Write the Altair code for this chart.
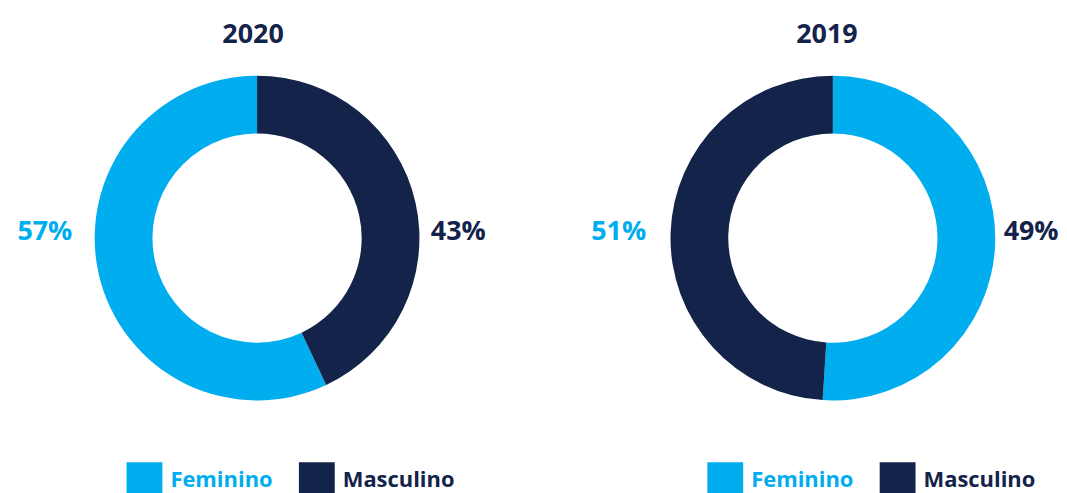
import altair as alt
import pandas as pd

# ---- data ----
years = ["2020", "2019"]
genders = ["Feminino", "Masculino"]
pct_2020 = [57, 43]          # Feminino, Masculino
pct_2019 = [51, 49]          # Feminino, Masculino
# drawing order clockwise from 12 o'clock
order_2020 = [2, 1]          # Masculino first
order_2019 = [1, 2]          # Feminino first

LIGHT = "#00ADEF"
DARK = "#13234A"
FONT = "Open Sans"

panel_vals = {"2020": (pct_2020, order_2020), "2019": (pct_2019, order_2019)}

# layout per panel (plot-area pixels)
layout = {
    "2020": dict(width=500, cx=250, title_x=246, left_x=37, right_x=452, legend_x=119),
    "2019": dict(width=470, cx=250, title_x=244, left_x=35, right_x=449, legend_x=124),
}
H = 477
CY = 230


def panel(year):
    vals, ords = panel_vals[year]
    df = pd.DataFrame({"gender": genders, "value": vals, "ord": ords})
    df["label"] = [f"{v}%" for v in vals]
    L = layout[year]

    color = alt.Color(
        "gender:N",
        scale=alt.Scale(domain=genders, range=[LIGHT, DARK]),
        legend=alt.Legend(
            title=None,
            orient="none",
            direction="horizontal",
            legendX=L["legend_x"],
            legendY=455,
            symbolType="square",
            symbolSize=1296,
            symbolStrokeWidth=0,
            labelFont=FONT,
            labelFontSize=22,
            labelFontWeight="bold",
            labelColor=alt.ExprRef(expr=f"datum.label === 'Feminino' ? '{LIGHT}' : '{DARK}'"),
            labelOffset=8,
            columnPadding=26,
            padding=0,
            labelLimit=300,
        ),
    )

    base = alt.Chart(df)
    arc = base.mark_arc(outerRadius=163, innerRadius=105, stroke=None).encode(
        theta=alt.Theta("value:Q", stack=True),
        order=alt.Order("ord:Q"),
        color=color,
        x=alt.value(L["cx"]),
        y=alt.value(CY),
    )

    fem = df[df.gender == "Feminino"]
    mas = df[df.gender == "Masculino"]

    t_fem = alt.Chart(fem).mark_text(
        font=FONT, fontSize=27, fontWeight="bold", color=LIGHT, align="center", baseline="alphabetic"
    ).encode(text="label:N", x=alt.value(L["left_x"]), y=alt.value(232))
    t_mas = alt.Chart(mas).mark_text(
        font=FONT, fontSize=27, fontWeight="bold", color=DARK, align="center", baseline="alphabetic"
    ).encode(text="label:N", x=alt.value(L["right_x"]), y=alt.value(232))

    title = alt.Chart(pd.DataFrame({"year": [year]})).mark_text(
        font=FONT, fontSize=27, fontWeight="bold", color=DARK, align="center", baseline="alphabetic"
    ).encode(text="year:N", x=alt.value(L["title_x"]), y=alt.value(34))

    return alt.layer(arc, t_fem, t_mas, title).properties(width=L["width"], height=H)


chart = (
    alt.hconcat(panel("2020"), panel("2019"), spacing=78)
    .resolve_scale(color="independent")
    .properties(padding=0, background="white")
    .configure_view(stroke=None)
)

chart.save("out.html", embed_options={"renderer": "svg", "actions": False})
